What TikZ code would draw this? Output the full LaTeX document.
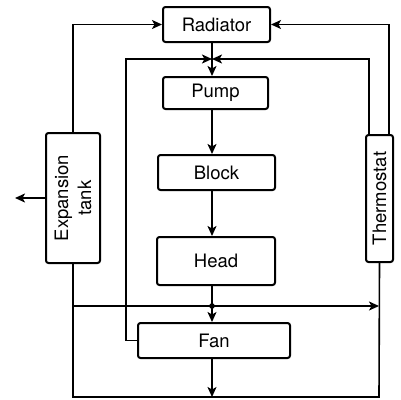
\documentclass[tikz,border=0pt]{standalone}
\usepackage{fontspec}
\setmainfont{TeX Gyre Heros}
\usetikzlibrary{arrows.meta}
\begin{document}
\begin{tikzpicture}[x=1pt,y=-1pt,
  box/.style={draw,line width=2pt,rounded corners=2.5pt,inner sep=0pt,font=\fontsize{18.5}{22}\selectfont},
  flow/.style={line width=1.6pt},
  arr/.style={flow,-{Stealth[length=10pt,width=9pt,inset=2.5pt]}},
  lbl/.style={font=\fontsize{18.5}{23}\selectfont, align=center, inner sep=0pt}]
\useasboundingbox (0,0) rectangle (401,399);
% boxes
\node[box,minimum width=107pt,minimum height=35pt] (rad) at (216.5,24.5) {Radiator};
\node[box,minimum width=105pt,minimum height=32pt] (pump) at (215.5,93) {Pump};
\node[box,minimum width=117pt,minimum height=35pt] (block) at (216.5,172.5) {Block};
\node[box,minimum width=118pt,minimum height=48pt] (head) at (216,261) {Head};
\node[box,minimum width=152pt,minimum height=35pt] (fan) at (214,340.5) {Fan};
\node[box,minimum width=54pt,minimum height=130pt] (tank) at (73,198) {};
\node[box,minimum width=27pt,minimum height=127pt] (thermo) at (379.5,198.5) {};
\node[lbl,rotate=90] (tanktext) at (tank) {Expansion\\tank};
\node[lbl,rotate=90] (thermotext) at (thermo) {Thermostat};
% coordinates
\coordinate (J) at (212,59);
\coordinate (tor) at (389,135);
\coordinate (til) at (369,135);
\coordinate (fl) at (126,59);
\coordinate (D) at (212,306);
\coordinate (HL) at (73,306);
\coordinate (HR) at (379,306);
\coordinate (BL) at (73,397);
\coordinate (BR) at (379,397);
\coordinate (E) at (15,198);
% connectors
\draw[arr] (tank.north) |- (rad.west);
\draw[arr] (tor) |- (rad.east);
\draw[arr] (til) |- (J);
\draw[arr] (fan.west) -| (fl) -- (J);
\draw[arr] (rad.south -| J) -- (pump.north -| J);
\draw[arr] (pump.south -| J) -- (block.north -| J);
\draw[arr] (block.south -| J) -- (head.north -| J);
\draw[arr] (head.south -| J) -- (fan.north -| J);
\draw[flow] (tank.south) -- (BL) -- (BR) -- (thermo.south);
\draw[arr] (fan.south -| J) -- (J |- BL);
\draw[arr] (HL) -- (HR);
\fill (D) circle (2.8pt);
\draw[arr] (tank.west) -- (E);
\end{tikzpicture}
\end{document}
